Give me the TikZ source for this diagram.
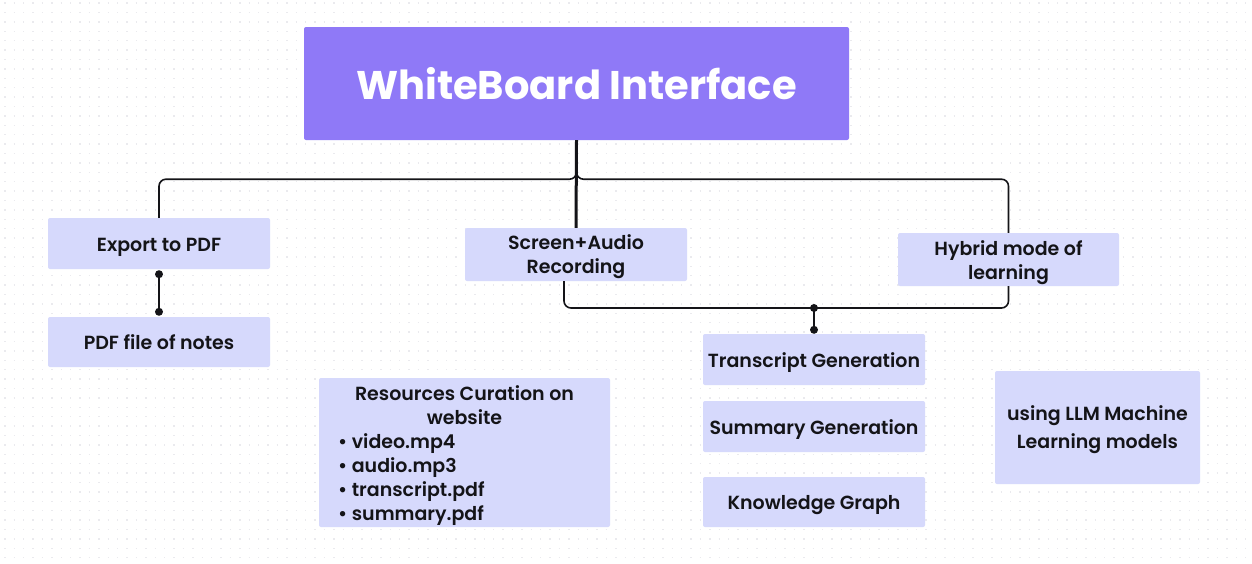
\documentclass[tikz,border=0pt]{standalone}
\usepackage{fontspec}
\setmainfont{Poppins SemiBold}[BoldFont={Poppins Bold}]
\usetikzlibrary{calc}
\definecolor{titlepurple}{RGB}{143,121,247}
\definecolor{boxlav}{RGB}{214,217,252}
\definecolor{gridgray}{RGB}{234,234,238}
\definecolor{ink}{RGB}{20,20,24}
\newcommand{\lowtext}[2][3pt]{\raisebox{-#1}[\height][\depth]{\begin{tabular}{@{}c@{}}#2\end{tabular}}}
\tikzset{
  box/.style={fill=boxlav, rounded corners=2pt, inner sep=0pt, align=center,
    text=ink, font=\fontsize{19}{24}\selectfont},
  titlebox/.style={fill=titlepurple, rounded corners=2pt, inner sep=0pt,
    text=white, font=\fontsize{40}{48}\selectfont\bfseries},
  conn/.style={draw=ink, line width=1.6pt, rounded corners=7pt},
  thickconn/.style={draw=ink, line width=3pt},
  dotconn/.style={draw=ink, line width=2.6pt},
  dotend/.style={fill=ink},
  gridrow/.style={draw=gridgray, line width=1.4pt, dash pattern=on 1.4pt off 8pt}
}
\begin{document}
\begin{tikzpicture}[x=1pt,y=-1pt]
\useasboundingbox (0,0) rectangle (1252,563);
\fill[white] (0,0) rectangle (1252,563);
% faint dot grid
\foreach \gy in {3,12.4,...,562} {
  \draw[gridrow] (4.25,\gy) -- (1252,\gy);
}
% nodes
\node[titlebox, minimum width=545pt, minimum height=113pt] (title) at (576.5,83.5) {WhiteBoard Interface};
\node[box, minimum width=222pt, minimum height=51pt] (export) at (159,243.5) {\lowtext{Export to PDF}};
\node[box, minimum width=222pt, minimum height=50pt] (notes) at (159,342) {\lowtext{PDF file of notes}};
\node[box, minimum width=222pt, minimum height=53pt] (screen) at (576,254.5) {\lowtext[2.5pt]{Screen+Audio\\Recording}};
\node[box, minimum width=221pt, minimum height=53pt] (hybrid) at (1008.5,259.5) {\lowtext[3pt]{Hybrid mode of\\learning}};
\node[box, minimum width=222pt, minimum height=51pt] (transcript) at (814,359.5) {\lowtext{Transcript Generation}};
\node[box, minimum width=222pt, minimum height=51pt] (summary) at (814,426.5) {\lowtext{Summary Generation}};
\node[box, minimum width=222pt, minimum height=50pt] (knowledge) at (814,502) {\lowtext{Knowledge Graph}};
\node[box, minimum width=205pt, minimum height=113pt, font=\fontsize{19}{28}\selectfont] (llm) at (1097.5,427.5) {\lowtext[1pt]{using LLM Machine\\Learning models}};
\node[box, minimum width=291pt, minimum height=149pt] (res) at (464.5,452.5) {};
\node[anchor=north, text=ink, font=\fontsize{19}{24}\selectfont, align=center, inner sep=0pt] (restitle) at (464.5,385) {Resources Curation on\\website};
\node[anchor=north west, text=ink, font=\fontsize{19}{24}\selectfont, align=left, inner sep=0pt] (reslist) at (338,433) {%
\textbullet\ video.mp4\\
\textbullet\ audio.mp3\\
\textbullet\ transcript.pdf\\
\textbullet\ summary.pdf};
% connectors
\draw[thickconn] (title.south) -- (screen.north);
\draw[conn] (title.south) -- ++(0,39) -| (export.north);
\draw[conn] (title.south) -- ++(0,39) -| (hybrid.north);
\draw[dotconn] ([yshift=-5pt]export.south) -- ([yshift=5pt]notes.north);
\fill[dotend] ([yshift=-5pt]export.south) circle (4);
\fill[dotend] ([yshift=5pt]notes.north) circle (4);
\coordinate (join) at (814,308);
\draw[conn] ([xshift=-12pt]screen.south) |- (join) -| (hybrid.south);
\draw[dotconn] (join) -- ([yshift=4pt]transcript.north);
\fill[dotend] (join) circle (4);
\fill[dotend] ([yshift=4pt]transcript.north) circle (4);
\end{tikzpicture}
\end{document}
